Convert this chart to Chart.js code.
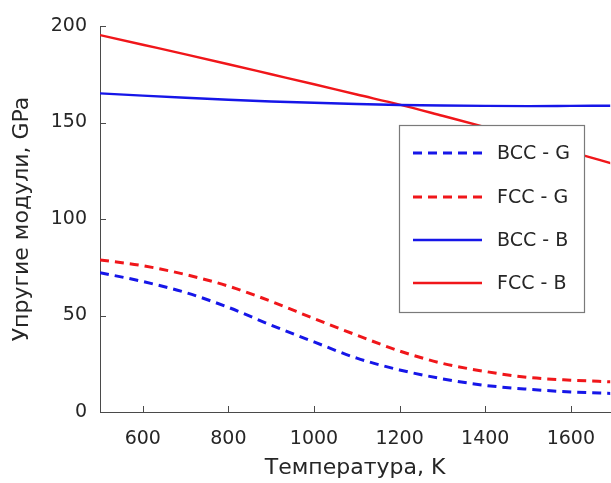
<!DOCTYPE html>
<html><head><meta charset="utf-8">
<script src="https://cdn.jsdelivr.net/npm/chart.js@4/dist/chart.umd.min.js"></script>
<style>html,body{margin:0;padding:0;background:#fff;overflow:hidden}#wrap{width:611px;height:483px}</style>
</head><body><div id="wrap"><canvas id="c" width="611" height="483"></canvas></div>
<script>
const temperatures = [500, 600, 700, 800, 900, 1000, 1100, 1200, 1300, 1400, 1500, 1600, 1700];
const bccG = [72.2, 67.6, 61.9, 54.2, 45.0, 36.3, 27.9, 21.8, 17.2, 13.8, 11.8, 10.4, 9.6];
const fccG = [78.8, 75.8, 71.2, 65.2, 57.3, 48.4, 39.8, 31.6, 25.2, 21.0, 17.9, 16.5, 15.6];
const bccB = [165.1, 163.9, 162.8, 161.8, 160.9, 160.2, 159.6, 159.1, 158.8, 158.6, 158.5, 158.6, 158.7];
const fccB = [195.3, 190.3, 185.3, 180.2, 175.0, 169.8, 164.5, 159.3, 153.5, 147.6, 141.3, 134.8, 128.5];
const seriesLabels = ['BCC - G', 'FCC - G', 'BCC - B', 'FCC - B'];
const xTicks = [600, 800, 1000, 1200, 1400, 1600];
const yTicks = [0, 50, 100, 150, 200];
const xTitle = 'Температура, K';
const yTitle = 'Упругие модули, GPa';

const RED = 'rgb(240,22,26)';
const BLUE = 'rgb(22,22,232)';
const AXIS = '#4a4a4a';
const TEXT = '#262626';
const FONT = "'DejaVu Sans', sans-serif";

function pts(vals) { return temperatures.map((t, i) => ({x: t, y: vals[i]})); }

const seriesStyles = [
  {color: BLUE, dash: [9, 6], width: 3},
  {color: RED, dash: [9, 6], width: 3},
  {color: BLUE, dash: [], width: 2.4},
  {color: RED, dash: [], width: 2.4}
];
const seriesValues = [bccG, fccG, bccB, fccB];

const datasets = seriesValues.map((v, i) => ({
  label: seriesLabels[i],
  data: pts(v),
  borderColor: seriesStyles[i].color,
  backgroundColor: seriesStyles[i].color,
  borderDash: seriesStyles[i].dash,
  borderWidth: seriesStyles[i].width,
  pointRadius: 0,
  fill: false,
  cubicInterpolationMode: 'monotone'
}));

const innerTicks = {
  id: 'innerTicks',
  afterDraw(chart) {
    const ctx = chart.ctx;
    const xs = chart.scales.x, ys = chart.scales.y;
    const a = chart.chartArea;
    ctx.save();
    ctx.strokeStyle = AXIS;
    ctx.lineWidth = 1;
    ctx.beginPath();
    xTicks.forEach(v => {
      const px = Math.round(xs.getPixelForValue(v)) + 0.5;
      ctx.moveTo(px, a.bottom); ctx.lineTo(px, a.bottom - 6);
    });
    yTicks.forEach(v => {
      const py = Math.round(ys.getPixelForValue(v)) + 0.5;
      ctx.moveTo(a.left, py); ctx.lineTo(a.left + 6, py);
    });
    ctx.stroke();
    // legend box
    const bx = 399.5, by = 125.5, bw = 185, bh = 187;
    ctx.fillStyle = '#fff';
    ctx.fillRect(bx, by, bw, bh);
    ctx.strokeStyle = '#7a7a7a';
    ctx.lineWidth = 1.2;
    ctx.strokeRect(bx, by, bw, bh);
    const rows = [153, 197, 240, 283];
    ctx.font = '19px ' + FONT;
    ctx.textBaseline = 'middle';
    ctx.textAlign = 'left';
    chart.data.datasets.forEach((ds, i) => {
      ctx.beginPath();
      ctx.strokeStyle = ds.borderColor;
      ctx.lineWidth = ds.borderWidth;
      ctx.setLineDash(ds.borderDash);
      ctx.moveTo(413, rows[i]); ctx.lineTo(482, rows[i]);
      ctx.stroke();
      ctx.setLineDash([]);
      ctx.fillStyle = TEXT;
      ctx.fillText(ds.label, 497, rows[i] + 1);
    });
    ctx.restore();
  }
};

new Chart(document.getElementById('c'), {
  type: 'line',
  data: {datasets},
  options: {
    responsive: false,
    animation: false,
    devicePixelRatio: 1,
    layout: {padding: {left: 0, top: 26, right: 0, bottom: 0}},
    plugins: {legend: {display: false}, tooltip: {enabled: false}},
    scales: {
      x: {
        type: 'linear', min: 500, max: 1692,
        afterBuildTicks: s => { s.ticks = xTicks.map(v => ({value: v})); },
        afterFit: s => { s.height = 71; },
        grid: {display: false, drawTicks: false},
        border: {display: true, color: AXIS, width: 1},
        ticks: {color: TEXT, font: {family: FONT, size: 19}, padding: 16, maxRotation: 0, autoSkip: false, callback: v => String(v)},
        title: {display: true, text: xTitle, color: TEXT, font: {family: FONT, size: 22}, padding: {top: 0, bottom: 2}}
      },
      y: {
        type: 'linear', min: 0, max: 200,
        afterBuildTicks: s => { s.ticks = yTicks.map(v => ({value: v})); },
        afterFit: s => { s.width = 100; },
        grid: {display: false, drawTicks: false},
        border: {display: true, color: AXIS, width: 1},
        ticks: {color: TEXT, font: {family: FONT, size: 19}, padding: 13, autoSkip: false, callback: v => String(v)},
        title: {display: true, text: yTitle, color: TEXT, font: {family: FONT, size: 22}, padding: {top: 9, bottom: 0}}
      }
    }
  },
  plugins: [innerTicks]
});
</script>
</body></html>
